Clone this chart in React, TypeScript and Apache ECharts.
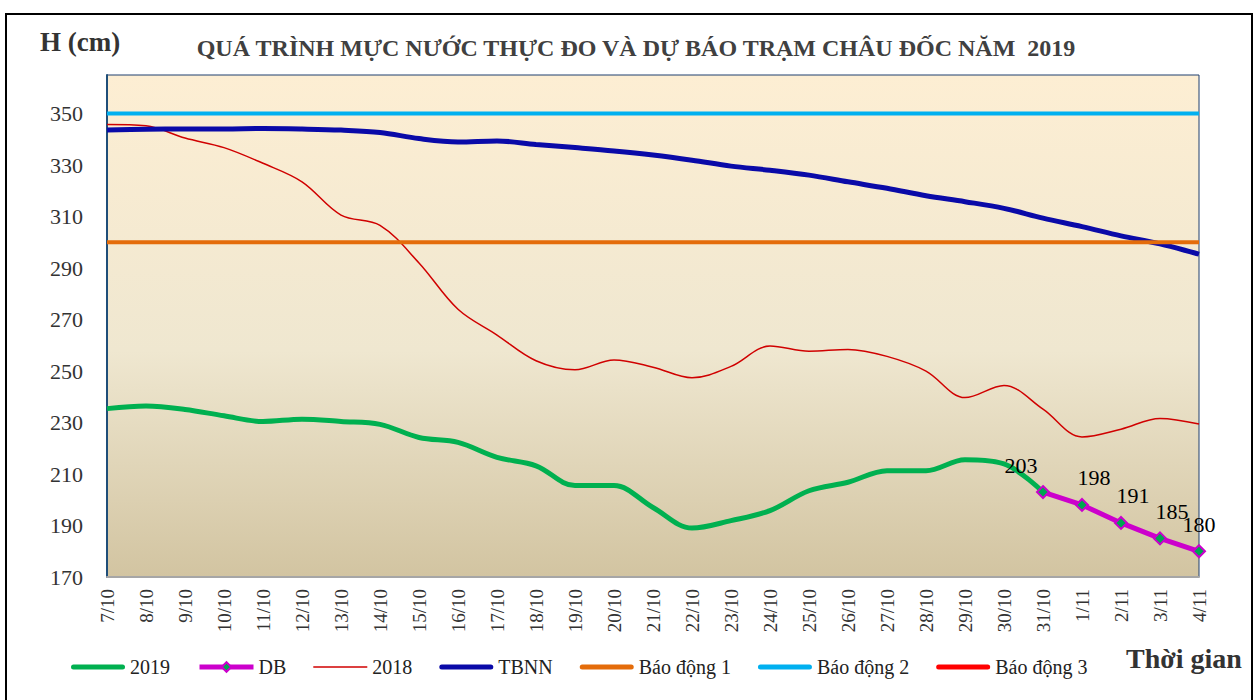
import React, { useEffect, useRef } from "react";
import * as echarts from "echarts";

const dates = [
  "7/10", "8/10", "9/10", "10/10", "11/10", "12/10", "13/10", "14/10", "15/10", "16/10",
  "17/10", "18/10", "19/10", "20/10", "21/10", "22/10", "23/10", "24/10", "25/10", "26/10",
  "27/10", "28/10", "29/10", "30/10", "31/10", "1/11", "2/11", "3/11", "4/11",
];

const obs2019 = [
  235.4, 236.4, 235.1, 232.6, 230.4, 231.3, 230.4, 229.3, 224.2, 222.3,
  216.5, 213.2, 205.5, 205.5, 197, 189.0, 191.9, 195.8, 203.5, 206.8,
  211.3, 211.3, 215.5, 213.9, 203,
];

const dbDates = ["31/10", "1/11", "2/11", "3/11", "4/11"];
const dbValues = [203, 198, 191, 185, 180];

const obs2018 = [
  345.8, 345.3, 340.5, 336.8, 330.7, 323.5, 310.6, 306.6, 292, 274,
  264, 254, 250.5, 254.3, 251.5, 247.4, 251.8, 259.7, 257.7, 258.4,
  255.7, 250, 239.7, 244.4, 235.2, 224.4, 227.4, 231.6, 229.4,
];

const tbnn = [
  343.6, 343.9, 344, 344, 344.2, 344, 343.6, 342.7, 340.3, 339,
  339.4, 338, 336.8, 335.5, 333.9, 331.9, 329.6, 328, 326.1, 323.5,
  321, 318.1, 315.8, 313.2, 309.4, 306.1, 302.5, 299.4, 295.4,
];

const alarm1 = 300;
const alarm2 = 350;
const alarm3 = 400;

const yTicks = { min: 170, max: 365, interval: 20 };

const FONT = "Liberation Serif";

const THICK = "path://M2.5,0H51.5A2.5,2.5,0,0,1,51.5,5H2.5A2.5,2.5,0,0,1,2.5,0Z";
const THIN = "path://M0,0H54V1.6H0Z";

export default function App() {
  const ref = useRef<HTMLDivElement>(null);

  useEffect(() => {
    document.body.style.margin = "0";
    const chart = echarts.init(ref.current!, null, { renderer: "svg" });

    const labelOffsets: Record<number, number[]> = { 0: [-22, -4], 4: [0, -4] };

    const option = {
      animation: false,
      backgroundColor: "#ffffff",
      textStyle: { fontFamily: FONT },
      title: {
        text: "QUÁ TRÌNH MỰC NƯỚC THỰC ĐO VÀ DỰ BÁO TRẠM CHÂU ĐỐC NĂM  2019",
        left: 631,
        textAlign: "center",
        top: 31,
        textStyle: { fontFamily: FONT, fontSize: 24, fontWeight: "bold", color: "#404040" },
      },
      graphic: [
        {
          type: "rect",
          shape: { x: 6, y: 14, width: 1246, height: 720 },
          style: { fill: "none", stroke: "#000", lineWidth: 2 },
          silent: true,
        },
        {
          type: "text",
          left: 40,
          top: 28,
          style: { text: "H (cm)", font: `bold 27px ${FONT}`, fill: "#333" },
        },
        {
          type: "text",
          left: 1126,
          top: 644,
          style: { text: "Thời gian", font: `bold 28px ${FONT}`, fill: "#333" },
        },
      ],
      legend: {
        left: 66,
        top: 652,
        itemWidth: 54,
        itemHeight: 12,
        itemGap: 27,
        textStyle: { fontFamily: FONT, fontSize: 20, color: "#222" },
        data: [
          { name: "2019", icon: THICK },
          { name: "DB", lineStyle: { width: 5 } },
          { name: "2018", icon: THIN },
          { name: "TBNN", icon: THICK },
          { name: "Báo động 1", icon: THICK },
          { name: "Báo động 2", icon: THICK },
          { name: "Báo động 3", icon: THICK },
        ],
      },
      grid: {
        left: 107,
        right: 60,
        top: 75,
        bottom: 123,
        show: true,
        borderColor: "#1f3f6e",
        borderWidth: 1,
        backgroundColor: new echarts.graphic.LinearGradient(0, 0, 0, 1, [
          { offset: 0, color: "#fdeed3" },
          { offset: 0.55, color: "#efe7d0" },
          { offset: 1, color: "#d2c4a1" },
        ]),
      },
      xAxis: {
        type: "category",
        data: dates,
        boundaryGap: false,
        axisLine: { lineStyle: { color: "#a6a6a6", width: 2 } },
        axisTick: { show: false },
        axisLabel: {
          rotate: 90,
          interval: 0,
          margin: 12,
          fontFamily: FONT,
          fontSize: 19,
          color: "#333",
        },
      },
      yAxis: {
        type: "value",
        min: yTicks.min,
        max: yTicks.max,
        interval: yTicks.interval,
        splitLine: { show: false },
        axisLine: { show: true, lineStyle: { color: "#1f4e79", width: 2 } },
        axisTick: { show: false },
        axisLabel: {
          showMaxLabel: false,
          margin: 24,
          fontFamily: FONT,
          fontSize: 22,
          color: "#333",
        },
      },
      series: [
        {
          name: "2019",
          type: "line",
          data: obs2019,
          smooth: 0.35,
          symbol: "none",
          lineStyle: { color: "#00b050", width: 5 },
          itemStyle: { color: "#00b050" },
          z: 3,
        },
        {
          name: "DB",
          type: "line",
          data: dbDates.map((d, i) => ({
            value: [d, dbValues[i]],
            label: labelOffsets[i] ? { offset: labelOffsets[i] } : undefined,
          })),
          symbol: "diamond",
          symbolSize: 12,
          lineStyle: { color: "#cc00cc", width: 5 },
          itemStyle: { color: "#00a651", borderColor: "#cc00cc", borderWidth: 2 },
          label: {
            show: true,
            position: "top",
            offset: [12, -4],
            fontFamily: FONT,
            fontSize: 22,
            color: "#000",
          },
          z: 4,
        },
        {
          name: "2018",
          type: "line",
          data: obs2018,
          smooth: 0.35,
          symbol: "none",
          lineStyle: { color: "#d00000", width: 1.5 },
          itemStyle: { color: "#d00000" },
          z: 2,
        },
        {
          name: "TBNN",
          type: "line",
          data: tbnn,
          smooth: 0.35,
          symbol: "none",
          lineStyle: { color: "#0a0aa8", width: 5 },
          itemStyle: { color: "#0a0aa8" },
          z: 3,
        },
        {
          name: "Báo động 1",
          type: "line",
          data: dates.map(() => alarm1),
          symbol: "none",
          lineStyle: { color: "#e46c0a", width: 4 },
          itemStyle: { color: "#e46c0a" },
          z: 4,
        },
        {
          name: "Báo động 2",
          type: "line",
          data: dates.map(() => alarm2),
          symbol: "none",
          lineStyle: { color: "#00b0f0", width: 4 },
          itemStyle: { color: "#00b0f0" },
          z: 4,
        },
        {
          name: "Báo động 3",
          type: "line",
          data: dates.map(() => alarm3),
          symbol: "none",
          lineStyle: { color: "#ff0000", width: 4 },
          itemStyle: { color: "#ff0000" },
          z: 4,
        },
      ],
    };

    chart.setOption(option as any);
    return () => chart.dispose();
  }, []);

  return <div ref={ref} style={{ width: 1259, height: 700 }} />;
}
